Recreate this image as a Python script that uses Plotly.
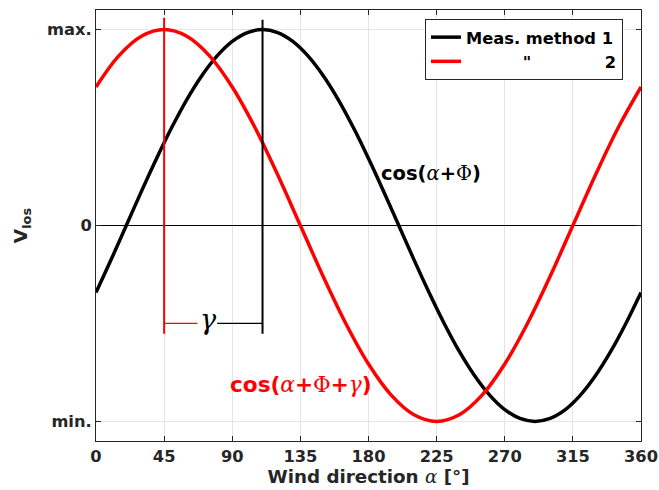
import plotly.graph_objects as go

# ---- data ----
alpha_black = [0, 10, 20, 30, 40, 50, 60, 70, 80, 90, 100, 110, 120, 130, 140, 150, 160, 170, 180,
               190, 200, 210, 220, 230, 240, 250, 260, 270, 280, 290, 300, 310, 320, 330, 340, 350, 360]
v_black = [-0.342, -0.174, 0.0, 0.174, 0.342, 0.5, 0.643, 0.766, 0.866, 0.94, 0.985, 1.0, 0.985, 0.94,
           0.866, 0.766, 0.643, 0.5, 0.342, 0.174, 0.0, -0.174, -0.342, -0.5, -0.643, -0.766, -0.866,
           -0.94, -0.985, -1.0, -0.985, -0.94, -0.866, -0.766, -0.643, -0.5, -0.342]
alpha_red = [0, 15, 30, 45, 60, 75, 90, 105, 120, 135, 150, 165, 180, 195, 210, 225, 240, 255, 270,
             285, 300, 315, 330, 345, 360]
v_red = [0.707, 0.866, 0.966, 1.0, 0.966, 0.866, 0.707, 0.5, 0.259, 0.0, -0.259, -0.5, -0.707, -0.866,
         -0.966, -1.0, -0.966, -0.866, -0.707, -0.5, -0.259, 0.0, 0.259, 0.5, 0.707]
peak_red = 45
peak_black = 110
marker_top = [1.06, 1.05]
marker_bottom = -0.553
gamma_y = -0.5
gamma_x = 74
gamma_gap = [67, 80]

x_ticks = [0, 45, 90, 135, 180, 225, 270, 315, 360]
y_ticks = [-1, 0, 1]
y_ticktext = ["min.", "0", "max."]
legend_names = ["Meas. method 1", "\u00a0" * 10 + '"' + "\u00a0" * 13 + "2"]

FONT = "DejaVu Sans"
DARK = "#262626"

fig = go.Figure()
fig.add_trace(go.Scatter(x=alpha_black, y=v_black, mode="lines", line=dict(color="black", width=3.5, shape="spline"),
                         name=legend_names[0]))
fig.add_trace(go.Scatter(x=alpha_red, y=v_red, mode="lines", line=dict(color="#ff0000", width=3.5, shape="spline"),
                         name=legend_names[1]))
# vertical markers
fig.add_trace(go.Scatter(x=[peak_red, peak_red], y=[marker_bottom, marker_top[0]], mode="lines",
                         line=dict(color="#ff0000", width=2), showlegend=False, hoverinfo="skip"))
fig.add_trace(go.Scatter(x=[peak_black, peak_black], y=[marker_bottom, marker_top[1]], mode="lines",
                         line=dict(color="black", width=2), showlegend=False, hoverinfo="skip"))
# gamma bar
fig.add_trace(go.Scatter(x=[peak_red, gamma_gap[0]], y=[gamma_y, gamma_y], mode="lines",
                         line=dict(color="#ff0000", width=1.3), showlegend=False, hoverinfo="skip"))
fig.add_trace(go.Scatter(x=[gamma_gap[1], peak_black], y=[gamma_y, gamma_y], mode="lines",
                         line=dict(color="black", width=1.3), showlegend=False, hoverinfo="skip"))

fig.add_annotation(x=gamma_x, y=gamma_y, text="<i>γ</i>", showarrow=False,
                   font=dict(family="DejaVu Serif", size=27, color="black"), yshift=4)
serif = "font-family:'DejaVu Serif';font-weight:normal"
fig.add_annotation(x=221, y=0.266, xanchor="center", yanchor="middle",
                   text=f"cos(<span style=\"{serif}\"><i>α</i></span>+<span style=\"{serif}\">Φ</span>)",
                   showarrow=False, font=dict(family=FONT, size=19.5, color="black", weight="bold"))
fig.add_annotation(x=135.4, y=-0.81, xanchor="center", yanchor="middle",
                   text=f"cos(<span style=\"{serif}\"><i>α</i></span>+<span style=\"{serif}\">Φ</span>+<span style=\"{serif}\"><i>γ</i></span>)",
                   showarrow=False, font=dict(family=FONT, size=21.6, color="#ff0000", weight="bold"))

fig.update_layout(
    width=659, height=490,
    margin=dict(l=96, r=18, t=10, b=49),
    plot_bgcolor="white", paper_bgcolor="white",
    font=dict(family=FONT, color=DARK),
    showlegend=True,
    legend=dict(x=0.967, y=0.979, xanchor="right", yanchor="top", bgcolor="white",
                bordercolor=DARK, borderwidth=1, font=dict(family=FONT, size=16.3, color="black", weight="bold"),
                tracegroupgap=0, itemwidth=30),
)
fig.update_xaxes(range=[0, 360], tickvals=x_ticks, ticks="inside", ticklen=5, tickcolor=DARK,
                 showline=True, linecolor=DARK, linewidth=1, mirror="allticks", automargin=False,
                 showgrid=True, gridcolor="#e5e5e5", gridwidth=1, zeroline=False,
                 tickfont=dict(family=FONT, size=16.3, color=DARK, weight="bold"),
                 title=dict(text="Wind direction <span style=\"font-family:'DejaVu Serif';font-weight:normal\"><i>α</i></span> [°]",
                            font=dict(family=FONT, size=18.3, color=DARK, weight="bold"), standoff=4))
fig.update_yaxes(range=[-1.1, 1.1], tickvals=y_ticks, ticktext=y_ticktext, ticks="inside", ticklen=5, tickcolor=DARK,
                 showline=True, linecolor=DARK, linewidth=1, mirror="allticks", automargin=False,
                 showgrid=True, gridcolor="#e5e5e5", gridwidth=1,
                 zeroline=True, zerolinecolor="black", zerolinewidth=1,
                 tickfont=dict(family=FONT, size=16.3, color=DARK, weight="bold"),
                 title=dict(text="V<sub>los</sub>", font=dict(family=FONT, size=18.5, color=DARK, weight="bold"), standoff=14))

fig.write_html("out.html")
